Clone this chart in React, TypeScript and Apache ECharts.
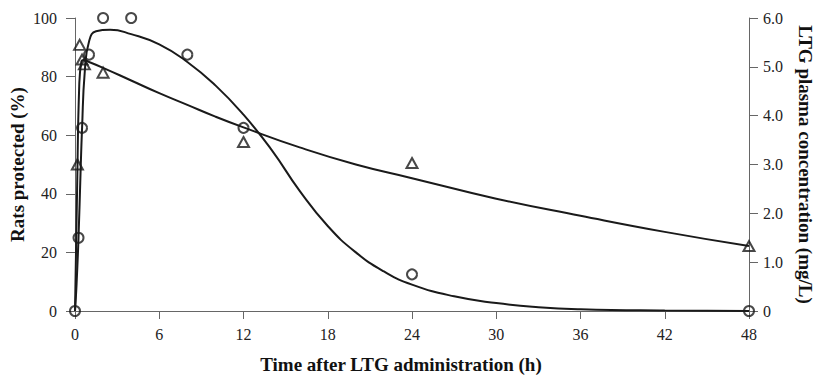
import React, { useEffect, useRef } from "react";
import * as echarts from "echarts";

// Observed data: rats protected (%) vs time (h)
const timeProtect = [0, 0.25, 0.5, 1, 2, 4, 8, 12, 24, 48];
const protectedPct = [0, 25, 62.5, 87.5, 100, 100, 87.5, 62.5, 12.5, 0];

// Observed data: LTG plasma concentration (mg/L) vs time (h)
const timePlasma = [0.17, 0.33, 0.5, 0.67, 2, 12, 24, 48];
const plasmaConc = [3.0, 5.45, 5.15, 5.05, 4.88, 3.46, 3.03, 1.33];

// Fitted curve (protection)
const fitTimeProtect = [0, 0.1, 0.25, 0.4, 0.5, 0.7, 1, 1.5, 2.5, 4, 6, 8, 10, 12, 14, 16, 18, 20, 22, 24, 27, 30, 33, 36, 42, 48];
const fitProtect = [0, 8, 25, 48, 62, 82, 92, 95.5, 96, 94.5, 91, 85, 77, 67, 55, 41, 29, 20, 13.5, 9, 5, 2.7, 1.3, 0.6, 0.15, 0];

// Fitted curve (plasma concentration)
const fitTimePlasma = [0, 0.15, 0.3, 0.45, 0.6, 1, 2, 4, 6, 8, 10, 12, 16, 20, 24, 30, 36, 42, 48];
const fitPlasma = [0, 2.5, 4.6, 5.1, 5.14, 5.1, 4.98, 4.72, 4.46, 4.22, 3.98, 3.76, 3.35, 3.0, 2.72, 2.3, 1.95, 1.62, 1.33];

const xTicks = [0, 6, 12, 18, 24, 30, 36, 42, 48];

const zip = (xs: number[], ys: number[]) => xs.map((x, i) => [x, ys[i]]);

const FONT = "'Liberation Serif', 'DejaVu Serif', serif";
const INK = "#1a1a1a";
const AXIS = "#666";

export default function App() {
  const ref = useRef<HTMLDivElement>(null);
  useEffect(() => {
    document.body.style.margin = "0";
    if (!ref.current) return;
    const chart = echarts.init(ref.current, undefined, { renderer: "svg" });
    const axisLabel = { color: "#222", fontFamily: FONT, fontSize: 16 };
    const nameStyle = { color: "#111", fontFamily: FONT, fontSize: 19, fontWeight: "bold" as const };
    chart.setOption({
      animation: false,
      backgroundColor: "#fff",
      grid: { left: 75, right: 74, top: 18, bottom: 74, outerBoundsMode: "none", containLabel: false },
      xAxis: {
        type: "value",
        min: xTicks[0],
        max: xTicks[xTicks.length - 1],
        interval: 6,
        name: "Time after LTG administration (h)",
        nameLocation: "middle",
        nameGap: 44,
        nameMoveOverlap: false,
        nameTextStyle: { ...nameStyle, padding: [0, 22, 0, 0] },
        axisLine: { lineStyle: { color: AXIS, width: 1 } },
        axisTick: { show: true, length: 8, lineStyle: { color: AXIS } },
        axisLabel: { ...axisLabel, margin: 15 },
        splitLine: { show: false },
      },
      yAxis: [
        {
          type: "value",
          min: 0,
          max: 100,
          interval: 20,
          name: "Rats protected (%)",
          nameLocation: "middle",
          nameGap: 48,
          nameMoveOverlap: false,
          nameTextStyle: nameStyle,
          axisLine: { show: true, lineStyle: { color: AXIS, width: 1 } },
          axisTick: { show: true, length: 9, lineStyle: { color: AXIS } },
          axisLabel: { ...axisLabel, margin: 18 },
          splitLine: { show: false },
        },
        {
          type: "value",
          min: 0,
          max: 6,
          interval: 1,
          position: "right",
          name: "LTG plasma concentration (mg/L)",
          nameLocation: "middle",
          nameGap: 47,
          nameRotate: -90,
          nameMoveOverlap: false,
          nameTextStyle: nameStyle,
          axisLine: { show: true, lineStyle: { color: AXIS, width: 1 } },
          axisTick: { show: true, length: 9, lineStyle: { color: AXIS } },
          axisLabel: {
            ...axisLabel,
            margin: 14,
            formatter: (v: number) => (v === 0 ? "0" : v.toFixed(1)),
          },
          splitLine: { show: false },
        },
      ],
      series: [
        {
          type: "line",
          data: zip(fitTimeProtect, fitProtect),
          smooth: 0.5,
          showSymbol: false,
          lineStyle: { color: INK, width: 2 },
          z: 2,
        },
        {
          type: "line",
          yAxisIndex: 1,
          data: zip(fitTimePlasma, fitPlasma),
          smooth: 0.5,
          showSymbol: false,
          lineStyle: { color: INK, width: 2 },
          z: 2,
        },
        {
          type: "scatter",
          data: zip(timeProtect, protectedPct),
          symbol: "circle",
          symbolSize: 10,
          itemStyle: { color: "rgba(255,255,255,0)", borderColor: INK, borderWidth: 2 },
          z: 3,
        },
        {
          type: "scatter",
          yAxisIndex: 1,
          data: zip(timePlasma, plasmaConc),
          symbol: "triangle",
          symbolSize: [11, 10],
          itemStyle: { color: "rgba(255,255,255,0)", borderColor: INK, borderWidth: 2 },
          z: 3,
        },
      ],
    });
    return () => chart.dispose();
  }, []);
  return <div ref={ref} style={{ width: 823, height: 385 }} />;
}
